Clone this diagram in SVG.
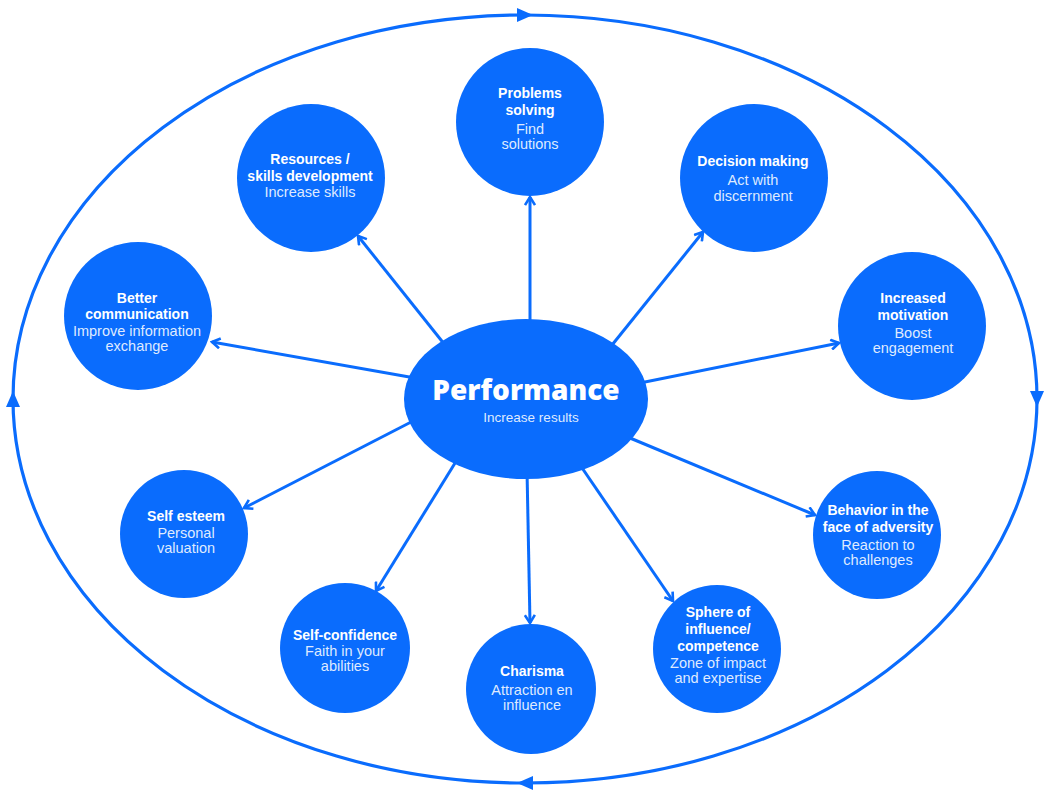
<svg xmlns="http://www.w3.org/2000/svg" width="1052" height="800" viewBox="0 0 1052 800">
<style>
.node{fill:#0a6cfd}
.t{font-family:"Liberation Sans",Arial,sans-serif;text-anchor:middle}
.b{font-weight:bold;font-size:14px;fill:#ffffff}
.r{font-size:14.5px;fill:#dfeaff}
.conn{stroke:#0a6cfd;stroke-width:3;fill:none}
.outer{stroke:#0a6cfd;stroke-width:3.2;fill:none}
</style>
<defs>
<marker id="chev" viewBox="0 0 12 12" refX="10" refY="6" markerWidth="12" markerHeight="12" markerUnits="userSpaceOnUse" orient="auto">
<path d="M2,1 L10,6 L2,11" fill="none" stroke="#0a6cfd" stroke-width="2.6"/>
</marker>
<marker id="tri" viewBox="0 0 16 16" refX="8" refY="8" markerWidth="16" markerHeight="16" markerUnits="userSpaceOnUse" orient="auto">
<path d="M0,1 L16,8 L0,15 Z" fill="#0a6cfd"/>
</marker>
</defs>
<rect width="1052" height="800" fill="#ffffff"/>
<g id="outer-cycle">
<path class="outer" d="M13,399 A512,384 0 0 1 525,15" marker-end="url(#tri)"/>
<path class="outer" d="M525,15 A512,384 0 0 1 1037,399" marker-end="url(#tri)"/>
<path class="outer" d="M1037,399 A512,384 0 0 1 525,783" marker-end="url(#tri)"/>
<path class="outer" d="M525,783 A512,384 0 0 1 13,399" marker-end="url(#tri)"/>
</g>
<g id="connectors">
<line class="conn" x1="530" y1="330" x2="530" y2="197" marker-end="url(#chev)"/>
<line class="conn" x1="445" y1="345" x2="358" y2="236" marker-end="url(#chev)"/>
<line class="conn" x1="608" y1="350" x2="703" y2="232" marker-end="url(#chev)"/>
<line class="conn" x1="415" y1="378" x2="212" y2="342" marker-end="url(#chev)"/>
<line class="conn" x1="640" y1="383" x2="839" y2="343" marker-end="url(#chev)"/>
<line class="conn" x1="415" y1="420" x2="244" y2="508" marker-end="url(#chev)"/>
<line class="conn" x1="630" y1="438" x2="815" y2="515" marker-end="url(#chev)"/>
<line class="conn" x1="460" y1="455" x2="376" y2="591" marker-end="url(#chev)"/>
<line class="conn" x1="527" y1="470" x2="530" y2="623" marker-end="url(#chev)"/>
<line class="conn" x1="578" y1="462" x2="673" y2="601" marker-end="url(#chev)"/>
</g>
<g id="performance">
<ellipse class="node" cx="526" cy="399" rx="122" ry="80"/>
<text x="526" y="400" style="font-family:'Noto Sans','Liberation Sans',sans-serif;font-weight:900;font-size:28px;fill:#ffffff;text-anchor:middle">Performance</text>
<text class="t" x="531" y="422" style="font-size:13.5px;fill:#dfeaff">Increase results</text>
</g>
<g id="problems-solving">
<circle class="node" cx="530" cy="122" r="74"/>
<text class="t b" x="530" y="98">Problems</text>
<text class="t b" x="530" y="115">solving</text>
<text class="t r" x="530" y="134">Find</text>
<text class="t r" x="530" y="149">solutions</text>
</g>
<g id="resources">
<circle class="node" cx="311" cy="178" r="74"/>
<text class="t b" x="310" y="164">Resources /</text>
<text class="t b" x="310" y="181">skills development</text>
<text class="t r" x="310" y="197">Increase skills</text>
</g>
<g id="decision-making">
<circle class="node" cx="754" cy="178" r="74"/>
<text class="t b" x="753" y="166">Decision making</text>
<text class="t r" x="753" y="185">Act with</text>
<text class="t r" x="753" y="201">discernment</text>
</g>
<g id="better-communication">
<circle class="node" cx="138" cy="316" r="74"/>
<text class="t b" x="137" y="303">Better</text>
<text class="t b" x="137" y="319">communication</text>
<text class="t r" x="137" y="336">Improve information</text>
<text class="t r" x="137" y="351">exchange</text>
</g>
<g id="increased-motivation">
<circle class="node" cx="912" cy="326" r="74"/>
<text class="t b" x="913" y="303">Increased</text>
<text class="t b" x="913" y="320">motivation</text>
<text class="t r" x="913" y="338">Boost</text>
<text class="t r" x="913" y="353">engagement</text>
</g>
<g id="self-esteem">
<circle class="node" cx="184" cy="534" r="64"/>
<text class="t b" x="186" y="521">Self esteem</text>
<text class="t r" x="186" y="538">Personal</text>
<text class="t r" x="186" y="553">valuation</text>
</g>
<g id="behavior">
<circle class="node" cx="877" cy="535" r="64"/>
<text class="t b" x="878" y="515">Behavior in the</text>
<text class="t b" x="878" y="532">face of adversity</text>
<text class="t r" x="878" y="550">Reaction to</text>
<text class="t r" x="878" y="565">challenges</text>
</g>
<g id="self-confidence">
<circle class="node" cx="345" cy="648" r="65"/>
<text class="t b" x="345" y="640">Self-confidence</text>
<text class="t r" x="345" y="656">Faith in your</text>
<text class="t r" x="345" y="671">abilities</text>
</g>
<g id="charisma">
<circle class="node" cx="531" cy="689" r="65"/>
<text class="t b" x="532" y="676">Charisma</text>
<text class="t r" x="532" y="695">Attraction en</text>
<text class="t r" x="532" y="710">influence</text>
</g>
<g id="sphere">
<circle class="node" cx="717" cy="649" r="64"/>
<text class="t b" x="718" y="617">Sphere of</text>
<text class="t b" x="718" y="634">influence/</text>
<text class="t b" x="718" y="651">competence</text>
<text class="t r" x="718" y="668">Zone of impact</text>
<text class="t r" x="718" y="683">and expertise</text>
</g>
</svg>
